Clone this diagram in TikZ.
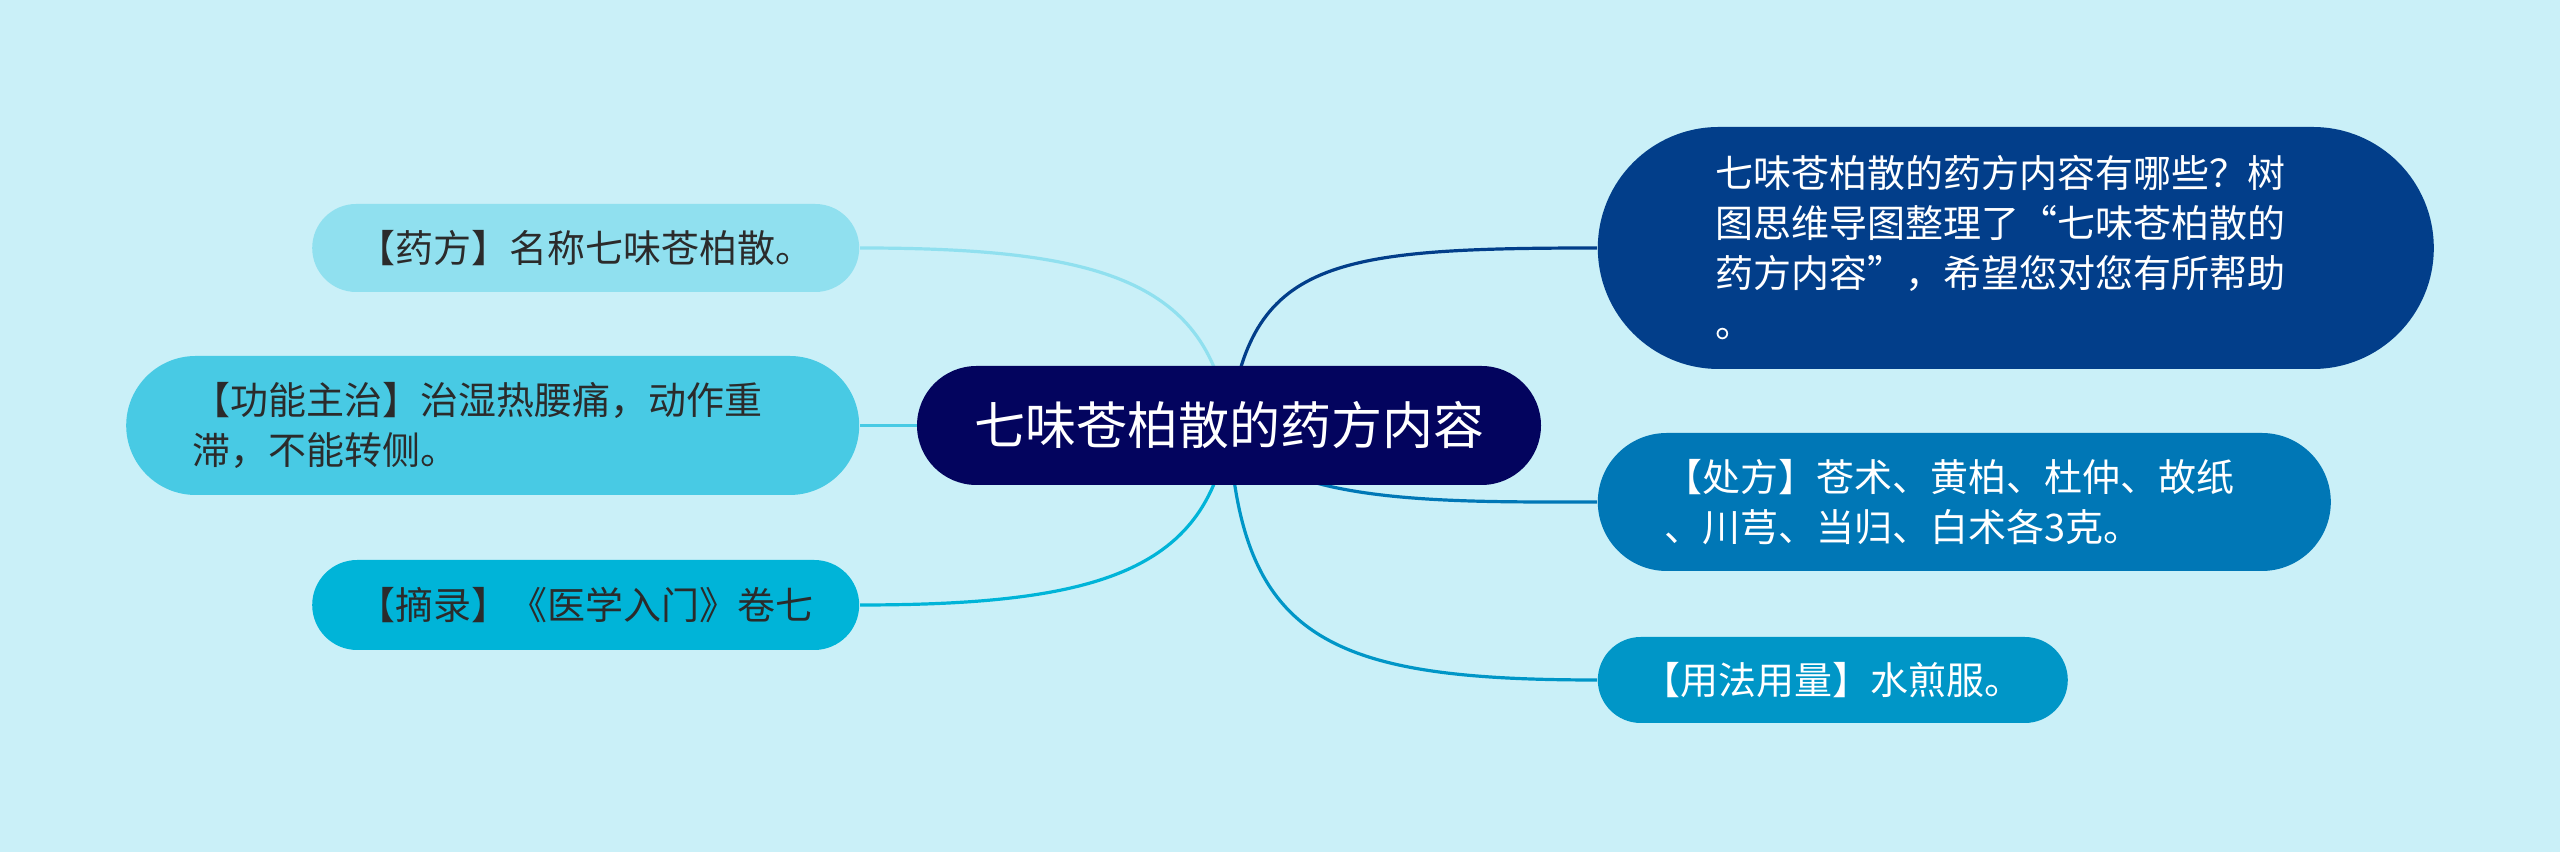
\documentclass[tikz,border=0pt]{standalone}
\usepackage{fontspec}
\usepackage{xcolor}
\usepackage{tikz}
\usetikzlibrary{positioning,shapes.misc,backgrounds}
\setmainfont{Noto Sans CJK SC}
\definecolor{bgcolor}{HTML}{CAF0F8}
\definecolor{rootcolor}{HTML}{03045E}
\definecolor{introcolor}{HTML}{023E8A}
\definecolor{recipecolor}{HTML}{0077B6}
\definecolor{usagecolor}{HTML}{0096C7}
\definecolor{sourcecolor}{HTML}{00B4D8}
\definecolor{funccolor}{HTML}{48CAE4}
\definecolor{namecolor}{HTML}{90E0EF}
\definecolor{ink}{HTML}{2B2B2B}
\tikzset{
  rootnode/.style={
    rounded rectangle,
    fill=rootcolor,
    text=white,
    inner sep=0pt,
    minimum width=156pt,
    minimum height=29.75pt,
    font=\fontsize{12.75}{15}\selectfont
  },
  topicnode/.style={
    rounded rectangle,
    align=left,
    inner sep=0pt,
    font=\fontsize{9.5}{12.5}\selectfont
  },
  darktopic/.style={topicnode, text=white},
  lighttopic/.style={topicnode, text=ink},
  linkline/.style={line width=0.8pt}
}

\begin{document}
\begin{tikzpicture}[x=0.25pt,y=-0.25pt]
  \useasboundingbox (0,0) rectangle (2560,852);
  % central topic
  \node[rootnode] (root) at (1229,425.5) {七味苍柏散的药方内容};
  % right branches
  \node[darktopic, fill=introcolor, anchor=west, minimum width=209pt, minimum height=60.5pt,
        text width=15em] (intro) at (1597,248)
    {七味苍柏散的药方内容有哪些？树\\图思维导图整理了“七味苍柏散的\\药方内容”，希望您对您有所帮助\\。};
  \node[darktopic, fill=recipecolor, anchor=west, minimum width=183.25pt, minimum height=34.5pt,
        text width=15em] (recipe) at (1597,502)
    {【处方】苍术、黄柏、杜仲、故纸\\、川芎、当归、白术各3克。};
  \node[darktopic, fill=usagecolor, anchor=west, minimum width=117.5pt, minimum height=21.5pt]
    (usage) at (1597,680) {【用法用量】水煎服。};
  % left branches
  \node[lighttopic, fill=namecolor, anchor=east, minimum width=136.75pt, minimum height=22pt]
    (name) at (860,248) {【药方】名称七味苍柏散。};
  \node[lighttopic, fill=funccolor, anchor=east, minimum width=183.25pt, minimum height=34.75pt,
        text width=15em] (func) at (860,425.5)
    {【功能主治】治湿热腰痛，动作重\\滞，不能转侧。};
  \node[lighttopic, fill=sourcecolor, anchor=east, minimum width=136.75pt, minimum height=22.5pt]
    (source) at (860,605) {【摘录】《医学入门》卷七};
  \begin{scope}[on background layer]
    \fill[bgcolor] (0,0) rectangle (2560,852);
    \draw[linkline, introcolor] (root.center) .. controls +(21,-165) and +(-267,0) .. (intro.west);
    \draw[linkline, recipecolor] (root.center) .. controls +(40,80) and +(-150,0) .. (recipe.west);
    \draw[linkline, usagecolor] (root.center) .. controls +(11,215) and +(-267,0) .. (usage.west);
    \draw[linkline, namecolor] (root.center) .. controls +(-19,-145) and +(240,0) .. (name.east);
    \draw[linkline, funccolor] (root.center) -- (func.east);
    \draw[linkline, sourcecolor] (root.center) .. controls +(-19,145) and +(240,0) .. (source.east);
  \end{scope}
\end{tikzpicture}
\end{document}
